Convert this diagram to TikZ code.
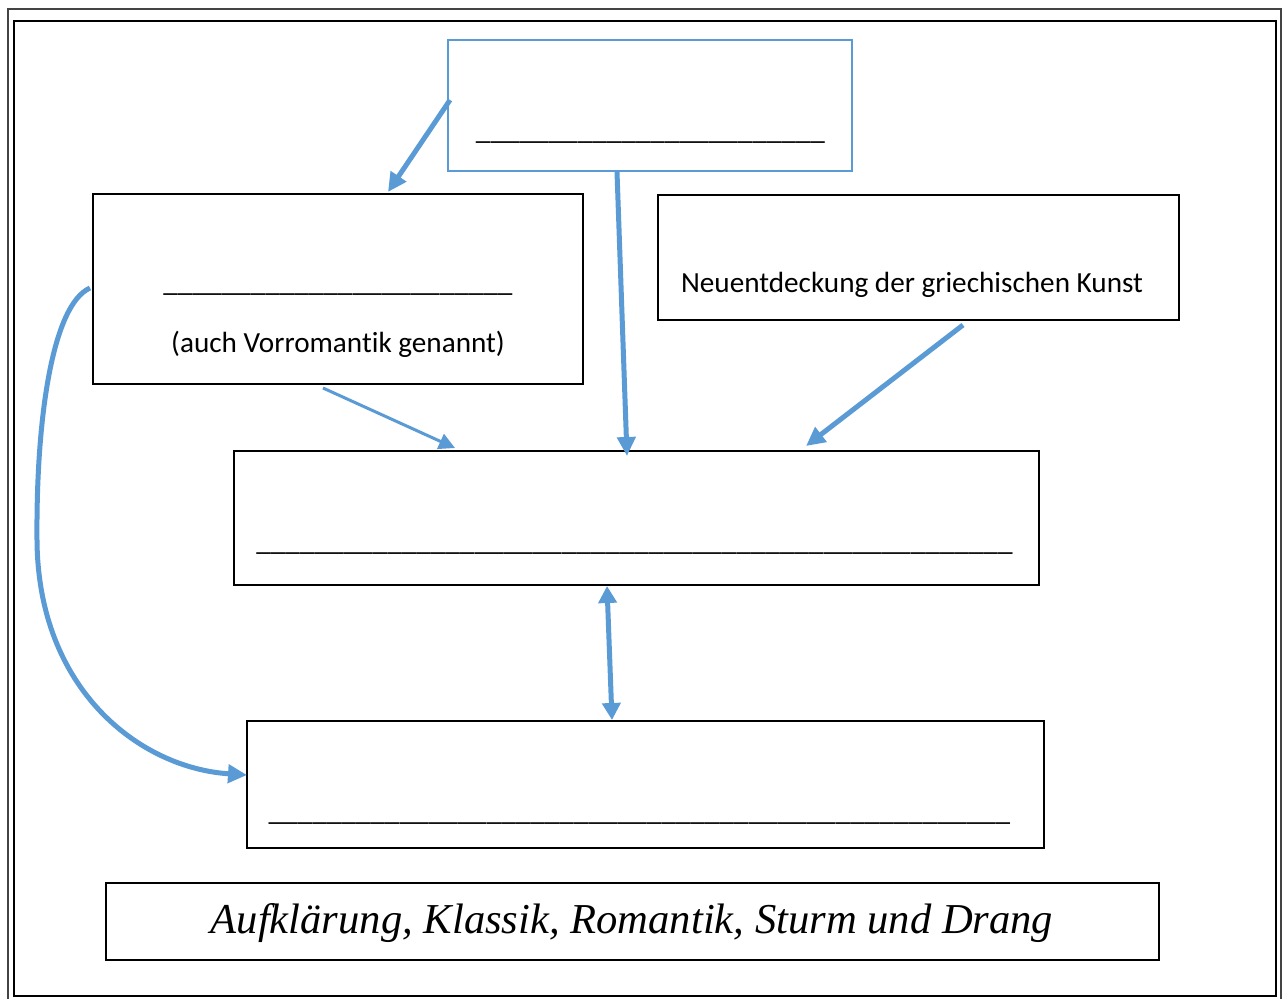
\documentclass[tikz,border=0pt]{standalone}
\usepackage{fontspec}
\setmainfont{Carlito}[Ligatures={NoCommon,NoContextual}]
\newfontfamily\timesfont{Liberation Serif}
\usetikzlibrary{arrows.meta}
\definecolor{ablue}{HTML}{5B9BD5}
\definecolor{framegray}{HTML}{444444}
\newcommand\usc[1]{\count255=0 \loop\ifnum\count255<#1 \textunderscore\advance\count255 by 1 \repeat}
\begin{document}
\begin{tikzpicture}[x=0.5pt,y=-0.5pt,
  box/.style={draw=black, line width=0.75pt, inner sep=0pt},
  bluebox/.style={draw=ablue, line width=1pt, inner sep=0pt},
  txt/.style={inner sep=0pt, font=\fontsize{14.6pt}{17pt}\selectfont},
  bigtxt/.style={inner sep=0pt, font=\timesfont\itshape\fontsize{21.3pt}{25pt}\selectfont},
  thickarrow/.style={draw=ablue, line width=2.5pt, -{Triangle[length=9.5pt,width=9pt]}},
  thinarrow/.style={draw=ablue, line width=1.5pt, -{Triangle[length=8pt,width=8pt]}},
  dblarrow/.style={draw=ablue, line width=2.5pt, {Triangle[length=8.5pt,width=9pt]}-{Triangle[length=8.5pt,width=9pt]}}
]
\useasboundingbox (0,0) rectangle (1284,999);
\fill[white] (0,0) rectangle (1284,999);
% page frame
\draw[framegray, line width=1pt] (8,1010) -- (8,9) -- (1281,9) -- (1281,1010);
\draw[black, line width=1.4pt] (14,996) rectangle (1276,21);

% boxes
\node[bluebox, minimum width=202pt, minimum height=65.5pt] (top) at (650,105.5) {};
\node[box, minimum width=245pt, minimum height=95pt] (left) at (338,289) {};
\node[box, minimum width=260.5pt, minimum height=62.5pt] (right) at (918.5,257.5) {};
\node[box, minimum width=402.5pt, minimum height=67pt] (mid) at (636.5,518) {};
\node[box, minimum width=398.5pt, minimum height=63.5pt] (low) at (645.5,784.5) {};
\node[box, minimum width=526.5pt, minimum height=38.5pt] (bot) at (632.5,921.5) {};

% texts
\node[txt, anchor=base] (topline) at (650.5,140) {\usc{24}};
\node[txt, anchor=base] (leftline) at (338,292) {\usc{24}};
\node[txt, anchor=base] (leftsub) at (338,353) {(auch Vorromantik genannt)};
\node[txt, anchor=base] (righttxt) at (912,293) {Neuentdeckung der griechischen Kunst};
\node[txt, anchor=base] (midline) at (634.5,550) {\usc{52}};
\node[txt, anchor=base] (lowline) at (639.5,820) {\usc{51}};
\node[bigtxt, anchor=base] (bottxt) at (632,933) {Aufklärung, Klassik, Romantik, Sturm und Drang};

% connector end points
\coordinate (a1s) at (450,100);
\coordinate (a1e) at (388,192);
\coordinate (a2s) at (617,172);
\coordinate (a2e) at (627,456);
\coordinate (a3s) at (963,325);
\coordinate (a3e) at (806,446);
\coordinate (a4s) at (323,388);
\coordinate (a4e) at (455,448);
\coordinate (a5s) at (607,586);
\coordinate (a5e) at (612,720);
\coordinate (c1s) at (90,288);
\coordinate (c1m) at (37,540);
\coordinate (c1e) at (247,775);

% connectors
\draw[thickarrow] (a1s) -- (a1e);
\draw[thickarrow] (a2s) -- (a2e);
\draw[thickarrow] (a3s) -- (a3e);
\draw[thinarrow] (a4s) -- (a4e);
\draw[dblarrow] (a5s) -- (a5e);
\draw[thickarrow] (c1s) .. controls (52,305) and (36,420) .. (c1m) .. controls (38,690) and (140,768) .. (c1e);
\end{tikzpicture}
\end{document}
